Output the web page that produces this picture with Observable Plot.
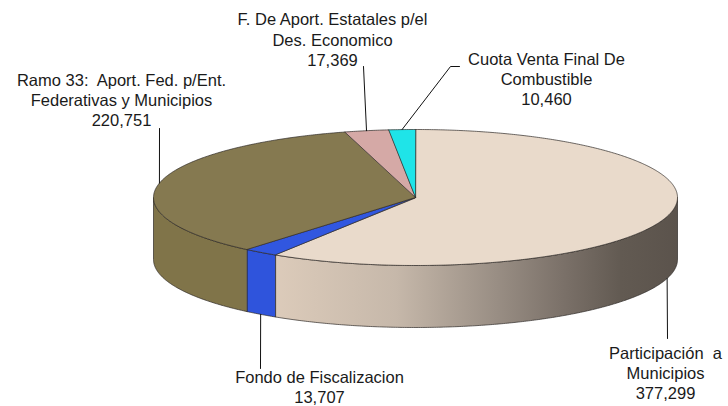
<!DOCTYPE html>
<html><head><meta charset="utf-8">
<script src="https://cdn.jsdelivr.net/npm/d3@7"></script>
<script src="https://cdn.jsdelivr.net/npm/@observablehq/plot@0.6"></script>
<style>html,body{margin:0;padding:0;background:#fff;}</style>
</head><body><div id="chart"></div>
<script>
// ---- data ----
const categories = [
  "Participación a Municipios",
  "Fondo de Fiscalizacion",
  "Ramo 33: Aport. Fed. p/Ent. Federativas y Municipios",
  "F. De Aport. Estatales p/el Des. Economico",
  "Cuota Venta Final De Combustible"
];
const values = [377299, 13707, 220751, 17369, 10460];
const labelLines = [
  ["Participación  a", "Municipios"],
  ["Fondo de Fiscalizacion"],
  ["Ramo 33:  Aport. Fed. p/Ent.", "Federativas y Municipios"],
  ["F. De Aport. Estatales p/el", "Des. Economico"],
  ["Cuota Venta Final De", "Combustible"]
];

// ---- styles / layout ----
const topColors  = ["#e9dacb", "#3157e0", "#857950", "#d5a9a6", "#1fe4e8"];
const sideColors = ["url(#sideGrad)", "#2f54dc", "#807449", "#c9a09d", "#1ad8dc"];
const W = 728, H = 406, CX = 415, CY = 197, RX = 262, RY = 68, DEPTH = 62;
const D = DEPTH / RY;
// label block centres (px) and leader anchor points near the labels (px)
const labelPos = [[665, 372], [319, 386], [121, 99], [332, 38.5], [546, 78]];
const leaderFromSide = [true, true, false, false, false];
const leaderAnchors = [
  [[667, 338]],
  [[260, 368]],
  [[159, 128]],
  [[363, 66]],
  [[450, 66], [459, 66]]
];

const toU = px => (px - CX) / RX;
const toV = py => (CY - py) / RY;

const pie = d3.pie().sort(null).value(d => d)(values);
function arcPts(a0, a1, dv = 0) {
  const n = Math.max(2, Math.ceil((a1 - a0) / (Math.PI / 360)));
  return d3.range(n + 1).map(i => {
    const a = a0 + (a1 - a0) * i / n;
    return {u: Math.sin(a), v: Math.cos(a) - dv};
  });
}

const tops = pie.map((p, i) => ({
  fill: topColors[i],
  pts: [{u: 0, v: 0}, ...arcPts(p.startAngle, p.endAngle)]
}));
const sides = [];
pie.forEach((p, i) => {
  const a0 = Math.max(p.startAngle, Math.PI / 2), a1 = Math.min(p.endAngle, 3 * Math.PI / 2);
  if (a1 > a0) sides.push({fill: sideColors[i], pts: [...arcPts(a0, a1), ...arcPts(a0, a1, D).reverse()]});
});
const leaders = pie.map((p, i) => {
  const m = (p.startAngle + p.endAngle) / 2;
  const start = {u: Math.sin(m), v: Math.cos(m) - (leaderFromSide[i] ? D : 0)};
  return [start, ...leaderAnchors[i].map(([x, y]) => ({u: toU(x), v: toV(y)}))];
});
const fmt = d3.format(",");
const labels = pie.map((p, i) => ({
  u: toU(labelPos[i][0]), v: toV(labelPos[i][1]),
  text: [...labelLines[i], fmt(values[i])].join("\n")
}));

const svg = Plot.plot({
  width: W, height: H,
  marginTop: 0, marginRight: 0, marginBottom: 0, marginLeft: 0,
  x: {domain: [toU(0), toU(W)], axis: null},
  y: {domain: [toV(H), toV(0)], axis: null},
  style: {background: "#fff", fontFamily: "'Liberation Sans', Arial, sans-serif"},
  marks: [
    ...sides.map(s => Plot.line(s.pts, {x: "u", y: "v", curve: "linear-closed", fill: s.fill, stroke: "#2e2a26", strokeWidth: 0.7})),
    ...tops.map(s => Plot.line(s.pts, {x: "u", y: "v", curve: "linear-closed", fill: s.fill, stroke: "#2e2a26", strokeWidth: 0.7})),
    ...leaders.map(l => Plot.line(l, {x: "u", y: "v", stroke: "#111", strokeWidth: 1})),
    Plot.text(labels, {x: "u", y: "v", text: "text", lineAnchor: "middle", lineHeight: 1.23, fontSize: 16.5, fill: "#1a1a1a"})
  ]
});
const defs = d3.select(svg).insert("defs", ":first-child");
const g = defs.append("linearGradient").attr("id", "sideGrad").attr("x1", 0).attr("x2", 1).attr("y1", 0).attr("y2", 0);
[[0, "#dccbba"], [0.3, "#c6b8aa"], [0.55, "#998e84"], [0.72, "#7a7068"], [0.86, "#625a52"], [1, "#5b534c"]]
  .forEach(([o, c]) => g.append("stop").attr("offset", o).attr("stop-color", c));
d3.select(svg).selectAll("text").attr("xml:space", "preserve").style("white-space", "pre");
document.getElementById("chart").appendChild(svg);
</script>
</body></html>
